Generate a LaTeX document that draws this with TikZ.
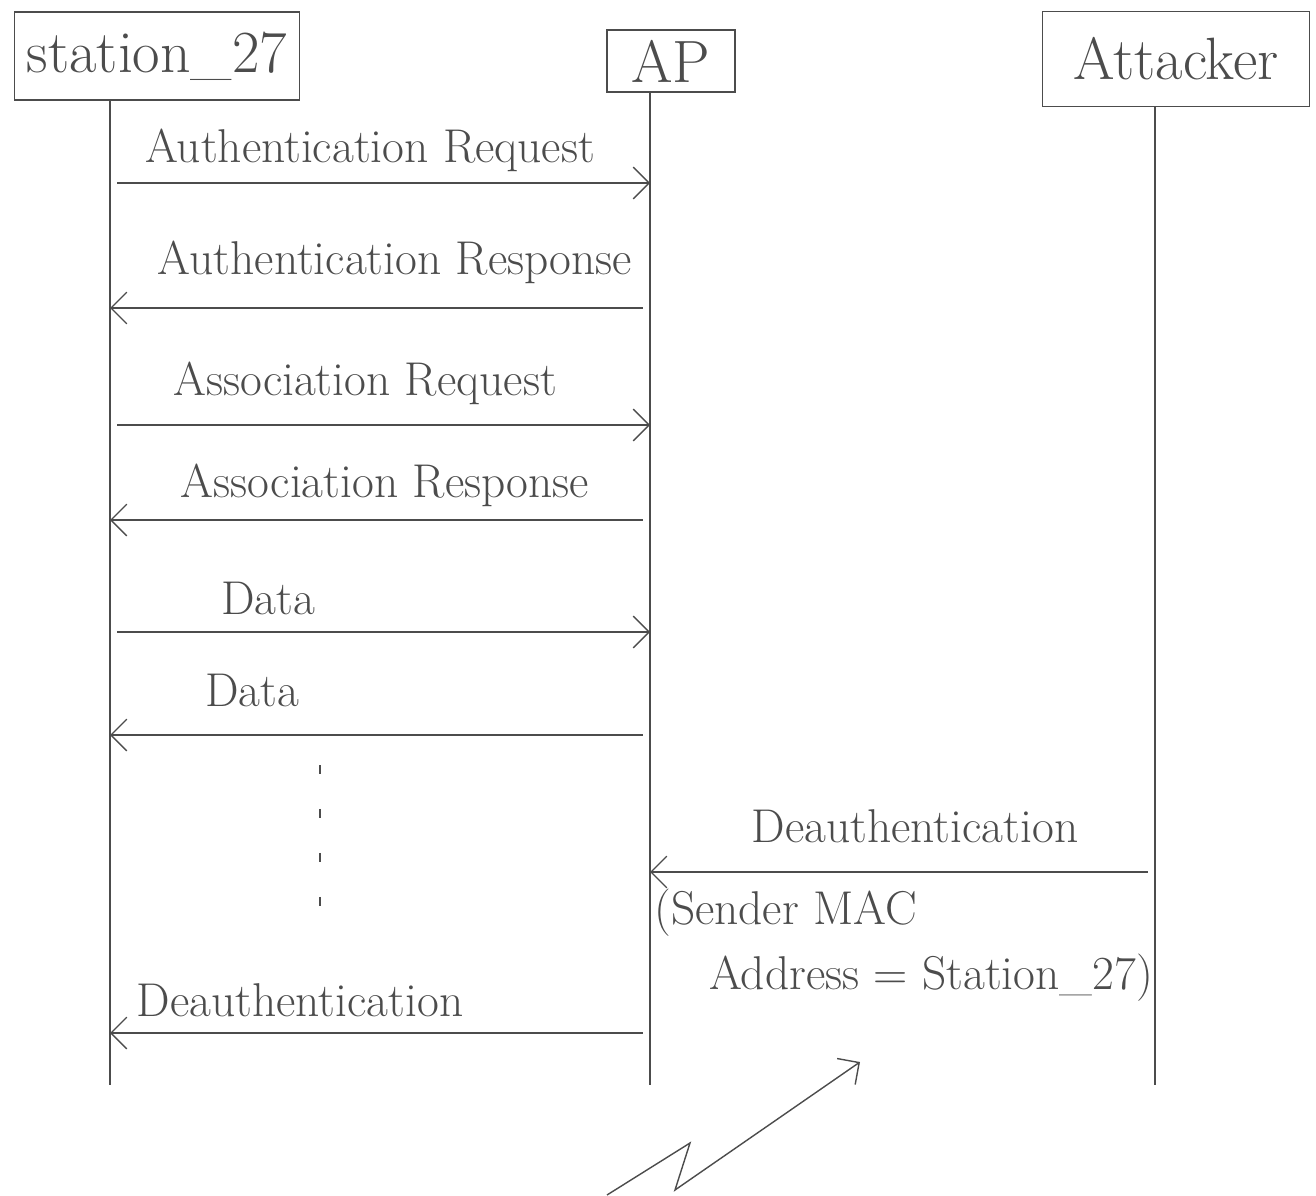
\documentclass[tikz,border=0pt]{standalone}
\usepackage{tikz}
\usetikzlibrary{arrows.meta, positioning}
\tikzset{>={Straight Barb[length=9pt,width=18pt]}}
\tikzset{
  actor/.style={draw, line width=0.9pt, font=\fontsize{34}{38}\selectfont, inner sep=0pt},
  msg/.style={font=\fontsize{27}{31}\selectfont},
  lifeline/.style={line width=0.8pt},
  call/.style={->, line width=0.8pt, shorten <=4pt},
  dots/.style={line width=1.3pt, dash pattern=on 5pt off 20pt}
}

\begin{document}
\begin{tikzpicture}[x=0.02cm, y=-0.02cm, color=black!70]
\useasboundingbox (0,0) rectangle (1316,1196);

% the three parties
\node[actor, minimum width=5.7cm, minimum height=1.76cm] (station) at (157,56) {station\_27};
\node[actor, minimum width=2.56cm, minimum height=1.24cm] (ap) at (671,61) {AP};
\node[actor, minimum width=5.34cm, minimum height=1.9cm] (attacker) at (1176,59) {Attacker};

% lifelines
\coordinate (st-top) at (110,0 |- station.south);
\coordinate (ap-top) at (650,0 |- ap.south);
\coordinate (at-top) at (1155,0 |- attacker.south);
\coordinate (st-end) at (110,1085);
\coordinate (ap-end) at (650,1085);
\coordinate (at-end) at (1155,1085);
\draw[lifeline] (st-top)--(st-end);
\draw[lifeline] (ap-top)--(ap-end);
\draw[lifeline] (at-top)--(at-end);

\foreach \n/\y in {1/183,2/308,3/425,4/520,5/632,6/735,7/872,8/1033}{
  \coordinate (st-\n) at (110,\y);
  \coordinate (ap-\n) at (650,\y);
  \coordinate (at-\n) at (1155,\y);
}

% join
\node[msg] (authreq) at (370,150) {Authentication Request};
\draw[call] (st-1)--(ap-1);
\node[msg] (authresp) at (395,262) {Authentication Response};
\draw[call] (ap-2)--(st-2);
\node[msg] (assreq) at (365,383) {Association Request};
\draw[call] (st-3)--(ap-3);
\node[msg] (assresp) at (385,485) {Association Response};
\draw[call] (ap-4)--(st-4);

% traffic
\node[msg] (data1) at (268,598) {Data};
\draw[call] (st-5)--(ap-5);
\node[msg] (data2) at (252,690) {Data};
\draw[call] (ap-6)--(st-6);
\coordinate (gap-top) at (320,765);
\coordinate (gap-end) at (320,935);
\draw[dots] (gap-top)--(gap-end);

% attack
\node[msg] (deauth1) at (915,826) {Deauthentication};
\draw[call] (at-7)--(ap-7);
\node[msg, font=\fontsize{27}{31}\selectfont, anchor=north west, align=left] (spoof) at (648,883) {(Sender MAC\\[6pt] \hspace*{1.1cm}Address = Station\_27)};
\node[msg] (deauth2) at (300,1000) {Deauthentication};
\draw[call] (ap-8)--(st-8);

% flash
\coordinate (z1) at (607,1195);
\coordinate (z2) at (690,1143);
\coordinate (z3) at (675,1190);
\coordinate (z4) at (860,1062);
\draw[->, line width=0.8pt] (z1)--(z2)--(z3)--(z4);
\end{tikzpicture}
\end{document}
